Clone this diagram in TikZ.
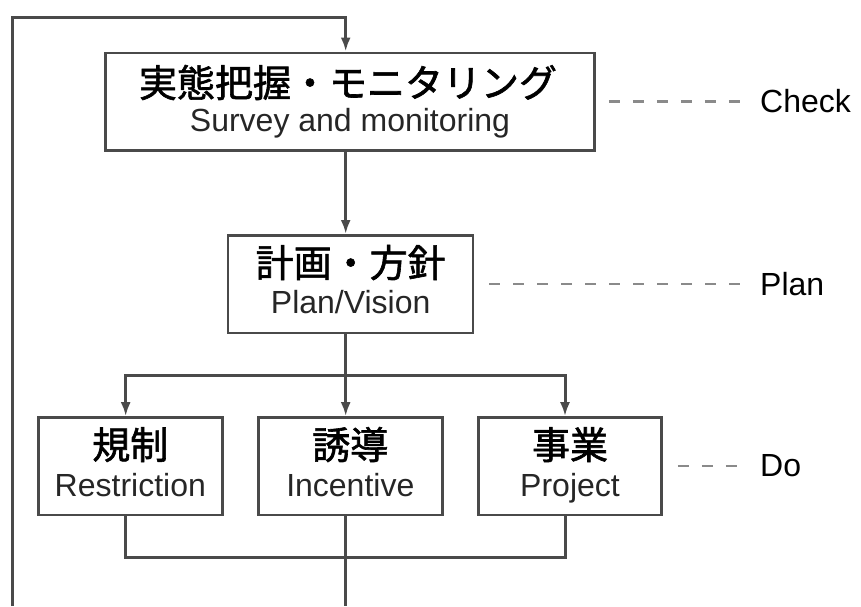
\documentclass[tikz,border=0pt]{standalone}
\usepackage{fontspec}
\setmainfont{Liberation Sans}
\newfontfamily\jpfont[FakeBold=1.6]{Noto Sans CJK JP}
\usetikzlibrary{arrows.meta}
\definecolor{linegray}{HTML}{4A4A4A}
\definecolor{dashgray}{HTML}{8A8A8A}
\definecolor{entext}{HTML}{262626}
\begin{document}
\begin{tikzpicture}[x=1pt,y=-1pt,
  box/.style={draw=linegray, line width=2.5pt, inner sep=0pt, minimum height=97.5pt},
  jptext/.style={anchor=base, inner sep=0pt, font=\jpfont\fontsize{38}{38}\selectfont, text=black},
  entext/.style={anchor=base, inner sep=0pt, font=\fontsize{32}{32}\selectfont, text=entext},
  lbl/.style={anchor=base west, inner xsep=10pt, inner ysep=0pt, font=\fontsize{32}{32}\selectfont, text=black},
  conn/.style={draw=linegray, line width=3pt, line join=miter},
  arr/.style={-{Latex[length=14pt,width=10pt]}},
  dashline/.style={draw=dashgray, line width=2.2pt, dash pattern=on 11pt off 13pt}
]
\useasboundingbox (0,0) rectangle (861,606);

% boxes
\node[box, minimum width=489pt] (b1) at (350.2,101.5) {};
\node[box, minimum width=245pt] (b2) at (350.7,284) {};
\node[box, minimum width=184pt] (b3) at (130.3,466.2) {};
\node[box, minimum width=184pt] (b4) at (350.3,466.2) {};
\node[box, minimum width=183.4pt] (b5) at (570,466.2) {};

% box texts
\node[jptext] (t1j) at (348,97) {実態把握・モニタリング};
\node[entext] (t1e) at (350,131) {Survey and monitoring};
\node[jptext] (t2j) at (350.7,277) {計画・方針};
\node[entext] (t2e) at (350.7,313) {Plan/Vision};
\node[jptext] (t3j) at (130.3,459) {規制};
\node[entext] (t3e) at (130.3,496) {Restriction};
\node[jptext] (t4j) at (350.3,459) {誘導};
\node[entext] (t4e) at (350.3,496) {Incentive};
\node[jptext] (t5j) at (570,459) {事業};
\node[entext] (t5e) at (570,496) {Project};

% side labels
\node[lbl] (chk) at (750,112) {Check};
\node[lbl] (pln) at (750,295) {Plan};
\node[lbl] (dol) at (750,476) {Do};

% coordinates
\coordinate (bl) at (12,606);
\coordinate (tl) at (12,17);
\coordinate (tr) at (345.7,17);
\coordinate (sl) at (125.7,375);
\coordinate (sm) at (345.7,375);
\coordinate (sr) at (565,375);
\coordinate (ml) at (125.7,557);
\coordinate (mr) at (565,557);
\coordinate (mb) at (345.7,606);

% connectors
\draw[conn,arr] (bl) -- (tl) -- (tr) -- (tr |- b1.north);
\draw[conn,arr] (b1.south -| tr) -- (tr |- b2.north);
\draw[conn,arr] (b2.south -| tr) -- (tr |- b4.north);
\draw[conn,arr] (sm) -- (sl) -- (sl |- b3.north);
\draw[conn,arr] (sm) -- (sr) -- (sr |- b5.north);
\draw[conn] (b3.south -| sl) -- (ml) -- (mr) -- (b5.south -| sr);
\draw[conn] (b4.south -| tr) -- (mb);

% dashed leaders
\draw[dashline] ([xshift=13pt]b1.east) -- ++(131,0);
\draw[dashline] ([xshift=15pt]b2.east) -- ++(251,0);
\draw[dashline] ([xshift=15pt]b5.east) -- ++(59,0);
\end{tikzpicture}
\end{document}
